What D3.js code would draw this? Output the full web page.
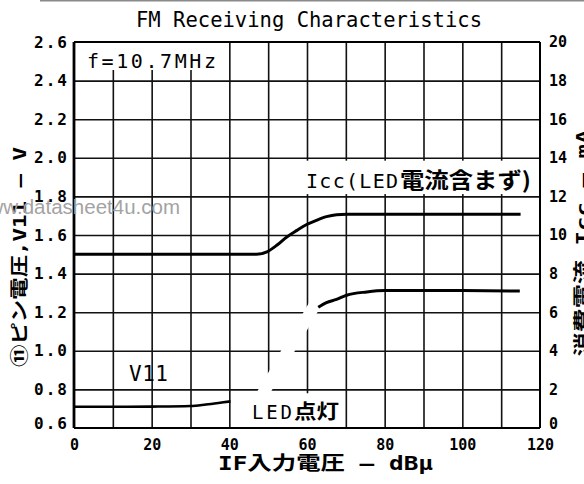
<!DOCTYPE html>
<html><head><meta charset="utf-8">
<script src="https://cdn.jsdelivr.net/npm/d3@7"></script>
<style>
html,body{margin:0;padding:0;background:#fff;}
svg{display:block;}
</style></head><body>
<svg id="c" width="584" height="484"></svg>
<script>
// ---------- data ----------
const titleText = "FM Receiving Characteristics";
const xTicks = [0, 20, 40, 60, 80, 100, 120];
const xGrid = [10, 20, 30, 40, 50, 60, 70, 80, 90, 100, 110];
const leftTicks = [0.6, 0.8, 1.0, 1.2, 1.4, 1.6, 1.8, 2.0, 2.2, 2.4, 2.6];
const rightTicks = [0, 2, 4, 6, 8, 10, 12, 14, 16, 18, 20];
const yGrid = [0.8, 1.0, 1.2, 1.4, 1.6, 1.8, 2.0, 2.2, 2.4];

// Icc (mA, right axis) vs IF input (dBμ)
const iccInput = [0, 40, 47, 49.7, 52.3, 54.8, 57.4, 59.8, 62.4, 65, 67.6, 70.2, 80, 100, 115];
const iccMA    = [9.0, 9.0, 9.0, 9.13, 9.48, 9.9, 10.24, 10.53, 10.76, 10.95, 11.05, 11.07, 11.07, 11.07, 11.07];

// V11 (V, left axis) before LED turns on
const v11LowInput = [0, 10, 20, 30, 34, 38, 40.3];
const v11Low      = [0.71, 0.71, 0.711, 0.714, 0.722, 0.732, 0.738];
// V11 after LED turns on
const v11HighInput = [62.9, 65, 67.6, 70.2, 75.4, 80, 90, 100, 114.8];
const v11High      = [1.226, 1.25, 1.266, 1.288, 1.305, 1.312, 1.312, 1.312, 1.31];

// erased leader from "LED点灯" label to the curve (dBμ, V)
const leaderInput = [48.4, 62.8];
const leaderV = [0.77, 1.265];

// ---------- layout ----------
const W = 584, H = 484;
const L = 74, R = 540, T = 42, B = 428;
const mono = "'DejaVu Sans Mono', monospace";
const mixed = "'DejaVu Sans Mono', 'Noto Sans CJK JP', sans-serif";
const cjk = "'Noto Sans CJK JP', 'DejaVu Sans', sans-serif";

const svg = d3.select("#c");
svg.append("rect").attr("width", W).attr("height", H).attr("fill", "#fff");

const x = d3.scaleLinear().domain([0, 120]).range([L, R]);
const yL = d3.scaleLinear().domain([0.6, 2.6]).range([B, T]);
const yR = d3.scaleLinear().domain([0, 20]).range([B, T]);

// top scan border
svg.append("line").attr("x1", 40).attr("x2", W).attr("y1", 0.5).attr("y2", 0.5)
  .attr("stroke", "#8a8a8a").attr("stroke-width", 2);

// grid
const gx = svg.append("g").attr("transform", `translate(0,${B})`)
  .call(d3.axisBottom(x).tickValues(xGrid).tickSize(-(B - T)).tickFormat(""));
gx.select(".domain").remove();
gx.selectAll("line").attr("stroke", "#111").attr("stroke-width", 1.6);

const gy = svg.append("g").attr("transform", `translate(${L},0)`)
  .call(d3.axisLeft(yL).tickValues(yGrid).tickSize(-(R - L)).tickFormat(""));
gy.select(".domain").remove();
gy.selectAll("line").attr("stroke", "#111").attr("stroke-width", 1.6);

// white label backgrounds (gridlines hidden behind labels)
svg.append("rect").attr("x", x(0)).attr("y", yL(2.6)).attr("width", x(39.5) - x(0))
  .attr("height", yL(2.455) - yL(2.6)).attr("fill", "#fff");
svg.append("rect").attr("x", x(58.2)).attr("y", yL(1.985)).attr("width", x(120) - x(58.2))
  .attr("height", yL(1.812) - yL(1.985)).attr("fill", "#fff");
svg.append("rect").attr("x", x(45.3)).attr("y", yL(0.78)).attr("width", x(69) - x(45.3))
  .attr("height", yL(0.605) - yL(0.78)).attr("fill", "#fff");

// erased leader line (white)
svg.append("path")
  .attr("d", d3.line().x(d => x(d[0])).y(d => yL(d[1]))(leaderInput.map((v, i) => [v, leaderV[i]])))
  .attr("stroke", "#fff").attr("stroke-width", 12).attr("fill", "none");

// frame
svg.append("line").attr("x1", L).attr("x2", L).attr("y1", T).attr("y2", B).attr("stroke", "#000").attr("stroke-width", 2.8);
svg.append("line").attr("x1", R).attr("x2", R).attr("y1", T).attr("y2", B).attr("stroke", "#000").attr("stroke-width", 2);
svg.append("line").attr("x1", L).attr("x2", R).attr("y1", T).attr("y2", T).attr("stroke", "#000").attr("stroke-width", 2.2);
svg.append("line").attr("x1", L).attr("x2", R).attr("y1", B).attr("y2", B).attr("stroke", "#000").attr("stroke-width", 2.2);

// curves
const lineL = d3.line().x(d => x(d[0])).y(d => yL(d[1])).curve(d3.curveMonotoneX);
const lineR = d3.line().x(d => x(d[0])).y(d => yR(d[1])).curve(d3.curveMonotoneX);
svg.append("path").attr("d", lineR(iccInput.map((v, i) => [v, iccMA[i]])))
  .attr("fill", "none").attr("stroke", "#000").attr("stroke-width", 3);
svg.append("path").attr("d", lineL(v11LowInput.map((v, i) => [v, v11Low[i]])))
  .attr("fill", "none").attr("stroke", "#000").attr("stroke-width", 2.6);
svg.append("path").attr("d", lineL(v11HighInput.map((v, i) => [v, v11High[i]])))
  .attr("fill", "none").attr("stroke", "#000").attr("stroke-width", 3);

// axes tick labels
const ax = svg.append("g").attr("transform", `translate(0,${B})`)
  .call(d3.axisBottom(x).tickValues(xTicks).tickSize(0).tickPadding(11).tickFormat(d3.format("d")));
ax.select(".domain").remove();
ax.selectAll("text").attr("font-family", mono).attr("font-weight", "bold").attr("font-size", 15)
  .attr("fill", "#000");

const al = svg.append("g").attr("transform", `translate(${L},0)`)
  .call(d3.axisLeft(yL).tickValues(leftTicks).tickSize(0).tickPadding(5).tickFormat(d3.format(".1f")));
al.select(".domain").remove();
al.selectAll("text").attr("font-family", mono).attr("font-weight", "bold").attr("font-size", 16)
  .attr("letter-spacing", 2).attr("fill", "#000")
  .attr("dy", d => d === 0.6 ? "0.0em" : "0.32em");

const ar = svg.append("g").attr("transform", `translate(${R},0)`)
  .call(d3.axisRight(yR).tickValues(rightTicks).tickSize(0).tickPadding(9).tickFormat(d3.format("d")));
ar.select(".domain").remove();
ar.selectAll("text").attr("font-family", mono).attr("font-weight", "bold").attr("font-size", 15)
  .attr("fill", "#000")
  .attr("dy", d => d === 0 ? "0.0em" : "0.32em");

// title
svg.append("text").attr("x", (x(0) + x(120)) / 2 + 2).attr("y", 27).attr("text-anchor", "middle")
  .attr("font-family", mono).attr("font-size", 20.5).attr("textLength", 346).attr("lengthAdjust", "spacingAndGlyphs")
  .text(titleText);

// in-plot labels
svg.append("text").attr("x", 87).attr("y", 68).attr("font-family", mono).attr("font-size", 20)
  .attr("textLength", 129).attr("lengthAdjust", "spacing").text("f=10.7MHz");

svg.append("text").attr("x", 306).attr("y", 188).attr("font-family", mono).attr("font-size", 20)
  .attr("textLength", 92).attr("lengthAdjust", "spacing").text("Icc(LED");
svg.append("text").attr("x", 400).attr("y", 188).attr("font-family", cjk).attr("font-size", 22).attr("font-weight", "bold")
  .attr("textLength", 131).attr("lengthAdjust", "spacingAndGlyphs").text("電流含まず)");

svg.append("text").attr("x", 129).attr("y", 381).attr("font-family", mono).attr("font-size", 21)
  .attr("textLength", 39).attr("lengthAdjust", "spacing").text("V11");

svg.append("text").attr("x", 252).attr("y", 419).attr("font-family", mono).attr("font-size", 19)
  .attr("textLength", 40).attr("lengthAdjust", "spacing").text("LED");
svg.append("text").attr("x", 294).attr("y", 419).attr("font-family", cjk).attr("font-size", 20).attr("font-weight", "bold")
  .attr("textLength", 45).attr("lengthAdjust", "spacingAndGlyphs").text("点灯");

// axis titles
svg.append("text").attr("x", 218).attr("y", 470).attr("font-family", mixed).attr("font-size", 19).attr("font-weight", "bold")
  .attr("textLength", 215).attr("lengthAdjust", "spacingAndGlyphs").text("IF入力電圧 — dBμ");

svg.append("text").attr("transform", "translate(26,257) rotate(-90)").attr("text-anchor", "middle")
  .attr("font-family", mixed).attr("font-size", 18).attr("font-weight", "bold")
  .attr("textLength", 220).attr("lengthAdjust", "spacingAndGlyphs").text("⑪ピン電圧,V11 — V");

svg.append("text").attr("transform", "translate(589,243) rotate(-90)").attr("text-anchor", "middle")
  .attr("font-family", mixed).attr("font-size", 18).attr("font-weight", "bold")
  .attr("textLength", 227).attr("lengthAdjust", "spacingAndGlyphs").text("消費電流,Icc — mA");

// watermark
svg.append("text").attr("x", 180).attr("y", 214).attr("text-anchor", "end")
  .attr("font-family", "'Liberation Sans', Arial, sans-serif").attr("font-size", 20.5)
  .attr("fill", "#a3a3a3").text("www.datasheet4u.com");
</script>
</body></html>
